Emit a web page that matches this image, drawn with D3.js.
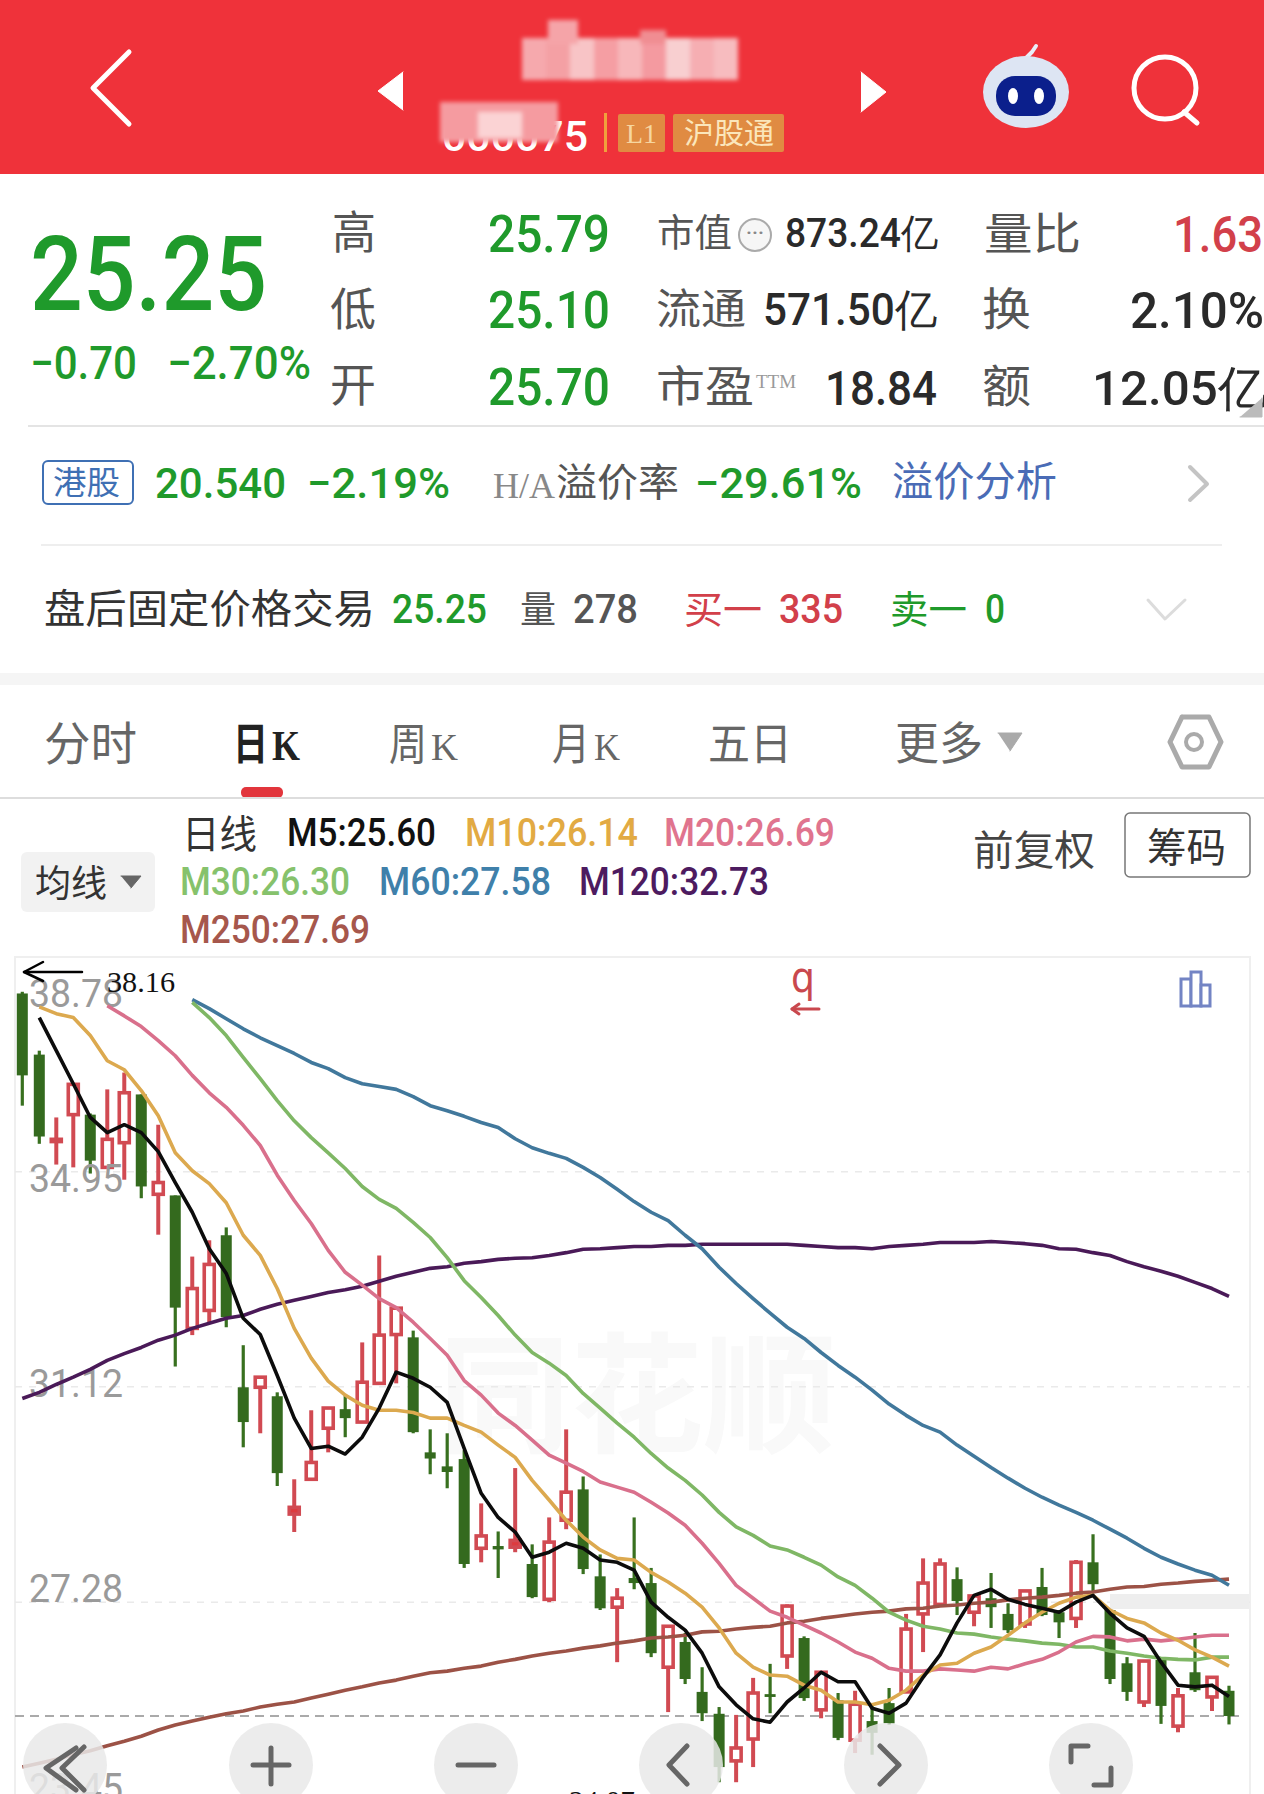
<!DOCTYPE html>
<html>
<head>
<meta charset="utf-8">
<script src="https://cdn.jsdelivr.net/npm/d3@7"></script>
<style>
  html, body { margin: 0; padding: 0; background: #fff; }
  svg { display: block; }
</style>
</head>
<body>
<div id="chart"></div>
<script>
// daily candles
var opens = [38.13,37.04,35.49,35.97,35.97,35.03,35.47,36.33,34.55,34.53,
  32.16,32.48,33.82,31.11,31.11,30.95,28.85,29.47,30.38,30.72,
  30.49,31.18,32.05,32.00,29.95,29.70,29.83,28.24,28.28,28.26,
  27.96,27.33,28.74,29.29,27.74,27.19,27.71,27.62,26.12,26.57,
  25.68,25.29,24.45,24.84,25.64,26.32,26.64,25.36,25.53,24.82,
  25.16,25.48,25.68,27.07,27.24,27.69,27.10,27.35,27.07,26.89,
  27.55,27.10,26.99,27.99,27.14,26.19,25.50,26.25,25.07,26.03,
  25.59,25.70];
var closes = [36.67,35.58,35.53,36.51,35.15,35.53,36.36,34.69,34.76,32.53,
  32.87,33.30,32.36,30.49,31.29,29.58,28.97,29.77,30.74,30.56,
  31.20,32.04,32.52,30.31,29.84,29.60,27.96,28.46,28.22,28.38,
  27.37,28.35,29.24,27.87,27.17,27.35,27.62,26.37,26.85,25.91,
  25.30,24.34,24.68,25.66,25.59,27.21,25.57,26.03,24.86,25.46,
  24.95,25.12,26.80,27.62,27.96,27.30,27.39,27.19,26.78,27.48,
  27.05,26.92,27.99,27.60,25.91,25.68,26.23,25.43,25.61,25.71,
  25.94,25.25];
var highs = [38.16,37.11,35.92,36.51,35.99,36.42,36.72,36.33,35.79,34.53,
  33.44,33.73,33.96,31.86,31.31,31.02,29.47,30.70,30.75,30.97,
  31.91,33.46,32.53,32.12,30.36,30.29,29.99,29.04,28.54,29.67,
  28.31,28.79,30.36,29.52,28.13,27.53,28.79,27.89,26.85,26.73,
  26.12,25.41,25.27,25.93,26.18,27.24,26.67,26.05,25.66,25.70,
  25.45,25.75,27.07,28.06,28.06,27.90,27.40,27.80,27.26,27.49,
  27.89,27.14,28.03,28.49,27.14,26.30,26.25,26.25,25.75,26.73,
  25.96,25.79];
var lows = [36.13,35.45,35.08,35.03,34.92,35.03,34.81,34.48,33.83,31.48,
  32.04,32.27,32.18,30.04,30.29,29.35,28.53,29.47,29.95,30.22,
  30.49,31.18,31.18,30.29,29.56,29.31,27.89,27.99,27.71,28.17,
  27.35,27.28,28.58,27.78,27.14,26.21,27.51,26.30,25.32,25.82,
  25.16,24.07,24.07,24.34,25.30,26.09,25.52,25.21,24.82,24.59,
  24.56,25.09,25.66,26.39,27.23,27.05,26.85,26.82,26.73,26.82,
  27.03,26.64,26.82,27.44,25.82,25.52,25.41,25.11,24.96,25.68,
  25.34,25.10];

// moving averages, null where the line has not started yet
var m5 = [null,37.70,37.11,36.52,35.92,35.65,35.79,35.65,35.31,34.76,
  34.23,33.58,33.14,32.34,32.05,31.32,30.56,30.02,30.06,29.92,
  30.22,30.74,31.38,31.27,31.11,30.84,30.02,29.22,28.79,28.53,
  28.08,28.17,28.33,28.24,28.03,27.99,27.85,27.28,27.01,26.78,
  26.37,25.77,25.45,25.20,25.14,25.50,25.75,26.03,25.86,25.86,
  25.39,25.30,25.48,25.94,26.34,26.91,27.40,27.51,27.33,27.24,
  27.17,27.10,27.28,27.40,27.08,26.82,26.67,26.21,25.80,25.77,
  25.80,25.60];
var m10 = [null,37.89,37.77,37.70,37.38,36.93,36.77,36.40,35.95,35.29,
  34.97,34.74,34.40,33.82,33.46,32.87,32.16,31.63,31.22,30.97,
  30.79,30.70,30.70,30.66,30.56,30.56,30.43,30.31,30.08,29.86,
  29.45,29.10,28.74,28.44,28.21,28.06,28.03,27.81,27.64,27.44,
  27.19,26.82,26.37,26.12,25.98,25.96,25.80,25.71,25.50,25.50,
  25.45,25.53,25.71,25.98,26.16,26.19,26.37,26.48,26.69,26.91,
  27.10,27.26,27.37,27.40,27.14,26.99,26.91,26.73,26.60,26.43,
  26.30,26.14];
var m20 = [null,null,null,null,null,37.91,37.73,37.54,37.29,37.02,
  36.67,36.36,36.10,35.78,35.42,34.89,34.44,34.03,33.55,33.16,
  32.93,32.69,32.53,32.27,31.98,31.68,31.23,30.97,30.65,30.43,
  30.17,29.90,29.76,29.61,29.42,29.33,29.24,29.06,28.87,28.65,
  28.33,27.97,27.58,27.35,27.12,27.01,26.87,26.73,26.57,26.39,
  26.28,26.10,26.05,26.05,26.09,26.07,26.05,26.12,26.09,26.18,
  26.26,26.39,26.57,26.67,26.66,26.59,26.62,26.59,26.62,26.66,
  26.69,26.69];
var m30 = [null,null,null,null,null,null,null,null,null,null,
  37.97,37.70,37.38,36.99,36.61,36.22,35.86,35.56,35.29,35.01,
  34.69,34.46,34.30,34.05,33.78,33.42,33.01,32.71,32.39,32.04,
  31.73,31.54,31.32,31.00,30.74,30.47,30.22,29.93,29.67,29.45,
  29.19,28.88,28.62,28.47,28.28,28.21,28.08,27.94,27.73,27.58,
  27.35,27.10,26.96,26.85,26.80,26.73,26.71,26.66,26.62,26.59,
  26.55,26.53,26.48,26.48,26.41,26.37,26.32,26.28,26.26,26.25,
  26.30,26.30];
var m60 = [null,null,null,null,null,null,null,null,null,null,
  38.02,37.86,37.68,37.50,37.34,37.20,37.06,36.90,36.79,36.63,
  36.52,36.47,36.42,36.29,36.13,36.04,35.94,35.83,35.74,35.54,
  35.38,35.28,35.19,35.03,34.85,34.64,34.42,34.23,34.08,33.82,
  33.58,33.25,32.96,32.69,32.43,32.18,31.98,31.73,31.50,31.29,
  31.06,30.81,30.61,30.43,30.31,30.08,29.88,29.68,29.49,29.31,
  29.15,29.01,28.88,28.74,28.58,28.42,28.24,28.08,27.96,27.85,
  27.76,27.58];
var m120 = [30.91,31.02,31.16,31.29,31.43,31.59,31.71,31.82,31.95,32.04,
  32.16,32.25,32.34,32.39,32.50,32.59,32.66,32.73,32.80,32.85,
  32.91,33.00,33.09,33.16,33.23,33.26,33.32,33.35,33.39,33.41,
  33.42,33.46,33.51,33.57,33.58,33.60,33.62,33.62,33.64,33.64,
  33.66,33.66,33.66,33.66,33.66,33.66,33.64,33.62,33.60,33.60,
  33.58,33.62,33.64,33.66,33.69,33.69,33.69,33.71,33.69,33.67,
  33.64,33.58,33.57,33.51,33.46,33.35,33.26,33.18,33.09,32.98,
  32.87,32.73];
var m250 = [24.34,24.41,24.48,24.56,24.63,24.72,24.80,24.89,25.00,25.09,
  25.16,25.23,25.29,25.34,25.41,25.46,25.50,25.57,25.64,25.71,
  25.77,25.84,25.89,25.96,26.02,26.05,26.10,26.14,26.21,26.26,
  26.32,26.37,26.41,26.46,26.50,26.55,26.59,26.64,26.66,26.69,
  26.75,26.76,26.80,26.83,26.85,26.91,26.94,26.99,27.03,27.07,
  27.10,27.12,27.16,27.17,27.21,27.23,27.26,27.28,27.32,27.35,
  27.37,27.40,27.44,27.46,27.51,27.55,27.56,27.60,27.62,27.65,
  27.67,27.69];

var priceTicks = [38.78, 34.95, 31.12, 27.28, 23.45];
var gridTicks = [34.95, 31.12, 27.28];
var lastClose = 25.25;
var highMark = 38.16;
var lowMark = 24.07;

var W = 1264, H = 1794;
var green = "#1f9a2b", red = "#d2404a", gray = "#555555", dark = "#2a2a2a";
var cjk = "'Noto Sans CJK SC', sans-serif";
var num = "Roboto, sans-serif";
var serif = "'Liberation Serif', serif";

var svg = d3.select("#chart").append("svg")
  .attr("width", W).attr("height", H)
  .attr("viewBox", "0 0 " + W + " " + H);

var defs = svg.append("defs");
defs.append("filter").attr("id", "blur").append("feGaussianBlur").attr("stdDeviation", 2);

// text squeezed into the width it has in the picture
function label(txt, x, y, size, color, width, font, weight) {
  var t = svg.append("text")
    .attr("x", x).attr("y", y)
    .attr("font-size", size)
    .attr("fill", color)
    .attr("font-family", font || cjk)
    .attr("font-weight", weight || (font === num ? 500 : 400))
    .text(txt);
  if (width) t.attr("textLength", width).attr("lengthAdjust", "spacingAndGlyphs");
  return t;
}

function poly(points, color, sw, fill) {
  return svg.append("path")
    .attr("d", d3.line()(points))
    .attr("fill", fill || "none")
    .attr("stroke", color)
    .attr("stroke-width", sw)
    .attr("stroke-linecap", "round")
    .attr("stroke-linejoin", "round");
}

function hline(y, x1, x2, color, sw) {
  svg.append("line").attr("x1", x1).attr("x2", x2).attr("y1", y).attr("y2", y)
    .attr("stroke", color).attr("stroke-width", sw || 2);
}

function drawHeader() {
  svg.append("rect").attr("width", W).attr("height", 174).attr("fill", "#ef323a");
  poly([[129, 52], [93, 88], [129, 124]], "#fff", 5);
  poly([[403, 72], [378, 91], [403, 110]], "#fff", 1, "#fff");
  poly([[861, 72], [886, 92], [861, 112]], "#fff", 1, "#fff");

  // name and code are blurred out in the source picture
  label("000075", 442, 151, 42, "#fff", 146, num, 500);
  var mosaic = svg.append("g").attr("filter", "url(#blur)");
  var cols = ["#f6a9ad", "#f4a0a4", "#f8c4c6", "#f59ea3", "#f7b7ba", "#f49aa0", "#f8cfd0", "#f6aeb2", "#f7bcbf"];
  cols.forEach(function (c, i) {
    mosaic.append("rect").attr("x", 522 + i * 24).attr("y", 38).attr("width", 24).attr("height", 42).attr("fill", c);
  });
  mosaic.append("rect").attr("x", 548).attr("y", 20).attr("width", 30).attr("height", 24).attr("fill", "#f5a4a8");
  mosaic.append("rect").attr("x", 640).attr("y", 30).attr("width", 26).attr("height", 14).attr("fill", "#f08d92");
  mosaic.append("rect").attr("x", 440).attr("y", 102).attr("width", 118).attr("height", 40).attr("fill", "#f59ba0");
  mosaic.append("rect").attr("x", 478).attr("y", 112).attr("width", 44).attr("height", 26).attr("fill", "#fbd3d4");

  svg.append("rect").attr("x", 604).attr("y", 113).attr("width", 3).attr("height", 39).attr("fill", "#f0a03c");
  svg.append("rect").attr("x", 618).attr("y", 114).attr("width", 47).attr("height", 38).attr("rx", 2).attr("fill", "#e08b42");
  label("L1", 626, 143, 28, "#f6d6a0", 31, serif);
  svg.append("rect").attr("x", 673).attr("y", 114).attr("width", 111).attr("height", 38).attr("rx", 2).attr("fill", "#e08b42");
  label("沪股通", 684, 144, 29, "#fbe6bb", 90);

  // robot
  poly([[1026, 58], [1032, 52], [1036, 46]], "#e9eef8", 4);
  svg.append("ellipse").attr("cx", 1026).attr("cy", 92).attr("rx", 43).attr("ry", 36).attr("fill", "#dde5f3");
  svg.append("rect").attr("x", 996).attr("y", 76).attr("width", 60).attr("height", 40).attr("rx", 19).attr("fill", "#0b1f8c");
  svg.append("ellipse").attr("cx", 1013).attr("cy", 96).attr("rx", 5).attr("ry", 8).attr("fill", "#fff");
  svg.append("ellipse").attr("cx", 1039).attr("cy", 96).attr("rx", 5).attr("ry", 8).attr("fill", "#fff");

  // search
  svg.append("circle").attr("cx", 1165).attr("cy", 88).attr("r", 31).attr("fill", "none").attr("stroke", "#fff").attr("stroke-width", 5);
  poly([[1184, 112], [1197, 123]], "#fff", 5);
}

function drawQuote() {
  label("25.25", 30, 310, 103, green, 237, num, 500);
  label("−0.70", 30, 379, 46, green, 107, num);
  label("−2.70%", 167, 379, 46, green, 144, num);

  label("高", 332, 249, 45, gray, 44);
  label("低", 330, 326, 45, gray, 46);
  label("开", 330, 402, 45, gray, 46);
  label("25.79", 488, 252, 51, green, 122, num, 500);
  label("25.10", 488, 328, 51, green, 122, num, 500);
  label("25.70", 488, 405, 51, green, 122, num, 500);

  label("市值", 657, 246, 38, gray, 75);
  svg.append("circle").attr("cx", 755).attr("cy", 235).attr("r", 16).attr("fill", "#f6f6f6").attr("stroke", "#aaa").attr("stroke-width", 2);
  label("···", 746, 240, 20, "#888", 18, num);
  label("873.24亿", 785, 247, 40, dark, 153, num);

  label("流通", 656, 324, 42, gray, 90);
  label("571.50亿", 763, 325, 44, dark, 174, num);

  label("市盈", 656, 402, 43, gray, 98);
  label("TTM", 756, 388, 19, "#999", 40, serif);
  label("18.84", 825, 405, 48, dark, 112, num);

  label("量比", 984, 250, 44, gray, 97);
  label("1.63", 1173, 252, 50, red, 90, num);
  label("换", 982, 326, 45, gray, 49);
  label("2.10%", 1130, 328, 50, dark, 134, num);
  label("额", 982, 403, 45, gray, 49);
  label("12.05亿", 1092, 405, 48, dark, 175, num);
  poly([[1262, 398], [1262, 417], [1240, 417]], "#bbb", 1, "#bbb");
  hline(426, 28, W, "#e4e4e4", 2);

  // A/H row
  svg.append("rect").attr("x", 43).attr("y", 461).attr("width", 90).attr("height", 43).attr("rx", 5)
    .attr("fill", "#fff").attr("stroke", "#3f70b4").attr("stroke-width", 2);
  label("港股", 53, 494, 32, "#3f70b4", 67);
  label("20.540", 155, 498, 42, green, 131, num);
  label("−2.19%", 307, 498, 42, green, 143, num);
  label("H/A", 493, 498, 35, "#888", 62, serif);
  label("溢价率", 556, 496, 39, gray, 123);
  label("−29.61%", 695, 498, 42, green, 167, num);
  label("溢价分析", 892, 496, 41, "#4a6cb6", 165);
  poly([[1190, 467], [1207, 484], [1190, 500]], "#c4c4c4", 4);
  hline(545, 41, 1222, "#eeeeee", 2);

  // after hours row
  label("盘后固定价格交易", 44, 623, 40, "#333", 331);
  label("25.25", 392, 623, 40, green, 95, num);
  label("量", 520, 623, 37, gray, 36);
  label("278", 573, 623, 40, gray, 65, num);
  label("买一", 684, 623, 38, red, 78);
  label("335", 779, 623, 40, red, 64, num);
  label("卖一", 890, 623, 38, green, 77);
  label("0", 985, 623, 40, green, 20, num);
  poly([[1148, 600], [1165, 619], [1185, 600]], "#dcdcdc", 3);

  svg.append("rect").attr("y", 673).attr("width", W).attr("height", 12).attr("fill", "#f5f5f5");
}

function drawTabs() {
  var tabColor = "#666";
  label("分时", 44, 760, 46, tabColor, 93);
  label("日", 233, 760, 44, "#222", 35, cjk, 700);
  label("K", 272, 760, 42, "#222", 28, serif, 700);
  label("周", 389, 760, 44, tabColor, 38);
  label("K", 431, 760, 38, tabColor, 27, serif);
  label("月", 552, 760, 44, tabColor, 38);
  label("K", 594, 760, 38, tabColor, 26, serif);
  label("五日", 708, 760, 44, tabColor, 84);
  label("更多", 895, 760, 45, tabColor, 88);
  poly([[998, 733], [1022, 733], [1010, 751]], "#aaa", 1, "#aaa");

  // settings hexagon
  poly([[1182, 717], [1209, 717], [1221, 742], [1209, 767], [1182, 767], [1170, 742], [1182, 717]], "#aaa", 5);
  svg.append("circle").attr("cx", 1194).attr("cy", 742).attr("r", 8).attr("fill", "none").attr("stroke", "#aaa").attr("stroke-width", 4);

  svg.append("rect").attr("x", 241).attr("y", 787).attr("width", 42).attr("height", 11).attr("rx", 5).attr("fill", "#e2353c");
  hline(798, 0, W, "#dddddd", 2);
}

function drawLegend() {
  label("日线", 182, 848, 39, "#333", 75);
  label("M5:25.60", 287, 846, 38, "#111", 149, num);
  label("M10:26.14", 465, 846, 38, "#e2aa43", 173, num);
  label("M20:26.69", 664, 846, 38, "#e0748e", 171, num);
  label("M30:26.30", 180, 895, 38, "#86c26c", 170, num);
  label("M60:27.58", 379, 895, 38, "#3f80aa", 172, num);
  label("M120:32.73", 579, 895, 38, "#4d1b60", 190, num);
  label("M250:27.69", 180, 943, 38, "#a6574c", 190, num);

  svg.append("rect").attr("x", 21).attr("y", 852).attr("width", 134).attr("height", 60).attr("rx", 6).attr("fill", "#f2f2f2");
  label("均线", 35, 897, 37, "#333", 72);
  poly([[121, 876], [141, 876], [131, 888]], "#666", 1, "#666");

  label("前复权", 973, 865, 41, "#444", 122);
  svg.append("rect").attr("x", 1125).attr("y", 813).attr("width", 125).attr("height", 64).attr("rx", 5)
    .attr("fill", "#fff").attr("stroke", "#777").attr("stroke-width", 1.5);
  label("筹码", 1147, 862, 40, "#333", 79);
}

function drawChart() {
  var x = d3.scaleLinear().domain([0, closes.length - 1]).range([22.3, 1229]);
  var y = d3.scaleLinear().domain([38.78, 23.45]).range([957, 1817]);
  var days = d3.range(closes.length);

  // frame
  var chart = svg.append("g");
  chart.append("path").attr("d", "M15,1794V957H1250V1794").attr("fill", "none").attr("stroke", "#efefef").attr("stroke-width", 2);

  // faint watermark
  chart.append("text").attr("x", 438).attr("y", 1442).attr("font-size", 130)
    .attr("font-family", cjk).attr("font-weight", 700).attr("fill", "#f9f9f9")
    .attr("textLength", 398).attr("lengthAdjust", "spacingAndGlyphs").text("同花顺");

  // grid
  chart.selectAll(".grid").data(gridTicks).enter().append("line")
    .attr("class", "grid")
    .attr("x1", 15).attr("x2", 1250)
    .attr("y1", function (d) { return y(d); })
    .attr("y2", function (d) { return y(d); })
    .attr("stroke", "#eaeaea").attr("stroke-width", 1.5)
    .attr("stroke-dasharray", "7 7");
  chart.append("rect").attr("x", 1110).attr("y", 1594).attr("width", 139).attr("height", 15).attr("fill", "#eeeeee");
  chart.append("line").attr("x1", 15).attr("x2", 1244)
    .attr("y1", y(lastClose)).attr("y2", y(lastClose))
    .attr("stroke", "#aaaaaa").attr("stroke-width", 2).attr("stroke-dasharray", "9 6");

  // candles
  var candles = chart.selectAll(".candle").data(days).enter().append("g").attr("class", "candle");
  candles.append("line")
    .attr("x1", function (i) { return x(i); })
    .attr("x2", function (i) { return x(i); })
    .attr("y1", function (i) { return y(highs[i]); })
    .attr("y2", function (i) { return y(lows[i]); })
    .attr("stroke", function (i) { return closes[i] >= opens[i] ? "#d14a52" : "#38701f"; })
    .attr("stroke-width", function (i) { return closes[i] >= opens[i] ? 4 : 3.2; });
  candles.append("rect")
    .attr("x", function (i) { return x(i) - (closes[i] >= opens[i] ? 5 : 5.5); })
    .attr("width", function (i) { return closes[i] >= opens[i] ? 10 : 11; })
    .attr("y", function (i) { return y(Math.max(opens[i], closes[i])); })
    .attr("height", function (i) { return Math.max(2, Math.abs(y(opens[i]) - y(closes[i]))); })
    .attr("fill", function (i) {
      if (closes[i] < opens[i]) return "#346a1e";
      return Math.abs(y(opens[i]) - y(closes[i])) < 8 ? "#dd3b3f" : "#fff";
    })
    .attr("stroke", function (i) { return closes[i] >= opens[i] ? "#d14a52" : "#346a1e"; })
    .attr("stroke-width", function (i) { return closes[i] >= opens[i] ? 3.6 : 0; });

  // price axis, labels sit off their grid lines as in the app
  var labelShift = [49, 20, 10, -1, -17];
  var axis = svg.append("g").attr("transform", "translate(29,0)")
    .call(d3.axisRight(y).tickValues(priceTicks).tickSize(0).tickPadding(0).tickFormat(d3.format(".2f")));
  axis.select(".domain").remove();
  axis.selectAll("text")
    .attr("font-family", num).attr("font-size", 38).attr("fill", "#9a9a9a")
    .attr("textLength", 94).attr("lengthAdjust", "spacingAndGlyphs")
    .attr("dy", 0)
    .attr("y", function (d, i) { return labelShift[i]; });

  // moving averages
  var series = [
    { values: m250, color: "#9c5246" },
    { values: m120, color: "#4a1a58" },
    { values: m60, color: "#41789c" },
    { values: m30, color: "#7fb765" },
    { values: m20, color: "#d9708c" },
    { values: m10, color: "#dca94f" },
    { values: m5, color: "#0c0c0c" }
  ];
  var maLine = d3.line()
    .defined(function (d) { return d != null; })
    .x(function (d, i) { return x(i); })
    .y(function (d) { return y(d); });
  svg.selectAll(".ma").data(series).enter().append("path")
    .attr("class", "ma")
    .attr("d", function (s) { return maLine(s.values); })
    .attr("fill", "none")
    .attr("stroke", function (s) { return s.color; })
    .attr("stroke-width", 3.6)
    .attr("stroke-linejoin", "round");

  // high and low marks
  poly([[82, 972], [24, 972]], "#000", 2.5);
  poly([[43, 962], [24, 972], [43, 981]], "#000", 2.5);
  label(d3.format(".2f")(highMark), 107, 992, 30, "#111", 68, serif);
  label(d3.format(".2f")(lowMark), 569, 1811, 29, "#111", 66, serif);

  // reversal icon and volume toggle
  label("q", 791, 992, 42, "#c9484e", 24, "'DejaVu Sans', sans-serif", 400);
  poly([[792, 1009], [819, 1009]], "#c9484e", 3);
  poly([[799, 1004], [792, 1009], [799, 1014]], "#c9484e", 3);
  var barIcon = svg.append("g").attr("fill", "#fff").attr("stroke", "#7384c4").attr("stroke-width", 3);
  barIcon.append("rect").attr("x", 1181).attr("y", 979).attr("width", 10).attr("height", 27);
  barIcon.append("rect").attr("x", 1191).attr("y", 972).attr("width", 10).attr("height", 34);
  barIcon.append("rect").attr("x", 1201).attr("y", 985).attr("width", 9).attr("height", 21);
}

function drawButtons() {
  var centers = [65, 271, 476, 681, 886, 1091];
  svg.selectAll(".btn").data(centers).enter().append("circle")
    .attr("class", "btn")
    .attr("cx", function (d) { return d; }).attr("cy", 1765).attr("r", 42)
    .attr("fill", "#e9e9e9").attr("fill-opacity", 0.85);
  var c = "#666";
  poly([[76, 1748], [46, 1768], [76, 1790]], c, 5);
  poly([[84, 1747], [62, 1768], [84, 1790]], c, 5);
  poly([[271, 1748], [271, 1784]], c, 5);
  poly([[253, 1765], [289, 1765]], c, 5);
  poly([[458, 1765], [494, 1765]], c, 5);
  poly([[687, 1746], [669, 1765], [687, 1784]], c, 5);
  poly([[880, 1746], [899, 1765], [880, 1784]], c, 5);
  poly([[1071, 1762], [1071, 1746], [1088, 1746]], c, 5);
  poly([[1094, 1785], [1111, 1785], [1111, 1768]], c, 5);
}

drawHeader();
drawQuote();
drawTabs();
drawLegend();
drawChart();
drawButtons();
</script>
</body>
</html>
